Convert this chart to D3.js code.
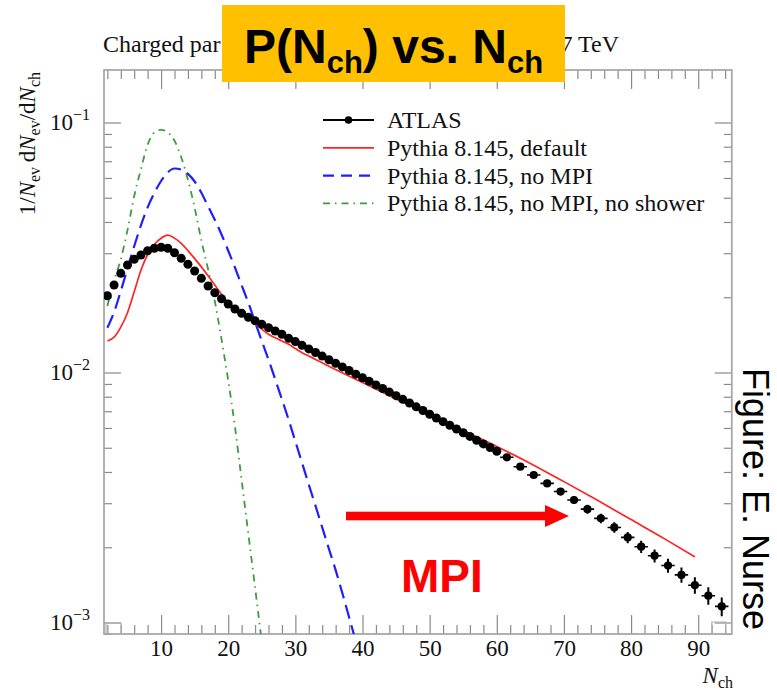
<!DOCTYPE html>
<html><head><meta charset="utf-8">
<script src="https://cdn.jsdelivr.net/npm/d3@7"></script>
<style>body{margin:0;background:#fff} svg{display:block}</style>
</head><body>
<svg id="c" width="777" height="692"></svg>
<script>
// ---------- DATA ----------
const atlasNarrowN = [2,3,4,5,6,7,8,9,10,11,12,13,14,15,16,17,18,19,20,21,22,23,24,25,26,27,28,29,30,31,32,33,34,35,36,37,38,39,40,41,42,43,44,45,46,47,48,49,50,51,52,53,54,55,56,57,58,59,60];
const atlasNarrowVal = [0.02028,0.02239,0.02493,0.02692,0.02837,0.02951,0.03070,0.03139,0.03168,0.03139,0.03014,0.02862,0.02709,0.02547,0.02381,0.02218,0.02085,0.01973,0.01879,0.01795,0.01725,0.01662,0.01611,0.01559,0.01511,0.01466,0.01422,0.01370,0.01329,0.01284,0.01243,0.01202,0.01163,0.01125,0.01088,0.01053,0.01019,0.00985,0.00953,0.00922,0.00892,0.00863,0.00835,0.00808,0.00781,0.00755,0.00729,0.00705,0.00681,0.00658,0.00636,0.00615,0.00594,0.00574,0.00555,0.00536,0.00518,0.00501,0.00484];
const atlasWideN = [61.5,63.5,65.5,67.5,69.5,71.5,73.5,75.5,77.5,79.5,81.5,83.5,85.5,87.5,89.5,91.5,93.5];
const atlasWideVal = [0.00458,0.00420,0.00389,0.00360,0.00334,0.00309,0.00284,0.00261,0.00240,0.00219,0.00201,0.00185,0.00169,0.00155,0.00141,0.00128,0.00116];
const atlasWideErr = [0.00010,0.000105,0.000109,0.000112,0.000114,0.000114,0.000116,0.000115,0.000115,0.000114,0.000113,0.000111,0.00011,0.000109,0.000106,0.000102,0.0001];
const atlasWideHalfWidth = 1;

const redN = [2,3,4,5,6,7,8,9,10,11,12,13,14,15,16,17,18,19,20,21,22,23,24,25,26,27,28,29,30,31,32,33,34,35,40,45,50,55,60,65,70,75,80,85,89.5];
const redVal = [0.01337,0.01384,0.01518,0.01734,0.02104,0.02566,0.02965,0.03251,0.03442,0.03541,0.03448,0.03284,0.03073,0.02855,0.02645,0.02436,0.02237,0.02057,0.01909,0.01803,0.01725,0.01649,0.01572,0.01490,0.01422,0.01377,0.01337,0.01297,0.01247,0.01200,0.01164,0.01128,0.01093,0.01059,0.00912,0.00783,0.00679,0.00586,0.00506,0.00433,0.00366,0.00308,0.00258,0.00216,0.00183];

const blueN = [2,3,4,5,6,7,8,9,10,11,12,13,14,15,16,17,18,19,20,21,22,23,24,25,26,27,28,29,30,31,32,33,34,35,36,37,38,39];
const blueVal = [0.01510,0.01744,0.02116,0.02609,0.03200,0.03880,0.04578,0.05224,0.05834,0.06320,0.06546,0.06480,0.06233,0.05808,0.05234,0.04624,0.04085,0.03565,0.03070,0.02630,0.02233,0.01900,0.01591,0.01337,0.01126,0.00939,0.00781,0.00647,0.00530,0.00435,0.00356,0.00293,0.00240,0.00197,0.00162,0.00131,0.00105,0.000842];

const greenN = [2,3,4,5,6,7,8,9,10,11,12,13,14,15,16,17,18,19,20,21,22,23,24,25];
const greenVal = [0.01845,0.02331,0.02834,0.03712,0.05082,0.06498,0.08157,0.09120,0.09350,0.09129,0.08449,0.07264,0.05905,0.04561,0.03373,0.02589,0.01932,0.01358,0.00929,0.00607,0.00371,0.00226,0.00138,0.000837];

const xMajorTicks = [10,20,30,40,50,60,70,80,90];
const xTickLabels = ["10","20","30","40","50","60","70","80","90"];
const yMajorTicks = [0.1,0.01,0.001];
const yTickExp = ["\u22121","\u22122","\u22123"];
const legendLabels = ["ATLAS","Pythia 8.145, default","Pythia 8.145, no MPI","Pythia 8.145, no MPI, no shower"];

// ---------- CHART ----------
const svg = d3.select("#c");
const L = 104, R = 731.8, T = 70, B = 634;
const x = d3.scaleLinear().domain([1.5, 95]).range([L, R]);
const y = d3.scaleLog().domain([Math.pow(10,-3.046), Math.pow(10,-0.79)]).range([B, T]);
const serif = "'Liberation Serif','Times New Roman',serif";
const sans = "'Liberation Sans',Arial,Helvetica,sans-serif";
const tickCol = "#8a8a8a";

svg.append("defs").append("clipPath").attr("id","plotclip")
  .append("rect").attr("x",L).attr("y",T).attr("width",R-L).attr("height",B-T);

const xMinor = d3.range(2, 95, 2).filter(v => v % 10 !== 0);
function styleAxis(g){ g.select(".domain").remove(); g.selectAll("line").attr("stroke",tickCol).attr("stroke-width",1.2); }

svg.append("g").attr("transform",`translate(0,${B})`)
  .call(d3.axisBottom(x).tickValues(xMajorTicks).tickSizeInner(-19).tickSizeOuter(0).tickPadding(6)
        .tickFormat((d,i)=>xTickLabels[i]))
  .call(styleAxis)
  .call(g=>g.selectAll("text").attr("font-family",serif).attr("font-size",23).attr("fill","#111"));
svg.append("g").attr("transform",`translate(0,${B})`)
  .call(d3.axisBottom(x).tickValues(xMinor).tickSizeInner(-9).tickSizeOuter(0).tickFormat(""))
  .call(styleAxis);
svg.append("g").attr("transform",`translate(0,${T})`)
  .call(d3.axisTop(x).tickValues(xMajorTicks).tickSizeInner(-19).tickSizeOuter(0).tickFormat(""))
  .call(styleAxis);
svg.append("g").attr("transform",`translate(0,${T})`)
  .call(d3.axisTop(x).tickValues(xMinor).tickSizeInner(-9).tickSizeOuter(0).tickFormat(""))
  .call(styleAxis);

const yAll = y.ticks();
const yMinor = yAll.filter(v => !yMajorTicks.some(m => Math.abs(m - v)/m < 1e-6));
svg.append("g").attr("transform",`translate(${L},0)`)
  .call(d3.axisLeft(y).tickValues(yMajorTicks).tickSizeInner(-17).tickSizeOuter(0).tickFormat(""))
  .call(styleAxis);
svg.append("g").attr("transform",`translate(${L},0)`)
  .call(d3.axisLeft(y).tickValues(yMinor).tickSizeInner(-8).tickSizeOuter(0).tickFormat(""))
  .call(styleAxis);
svg.append("g").attr("transform",`translate(${R},0)`)
  .call(d3.axisRight(y).tickValues(yMajorTicks).tickSizeInner(-17).tickSizeOuter(0).tickFormat(""))
  .call(styleAxis);
svg.append("g").attr("transform",`translate(${R},0)`)
  .call(d3.axisRight(y).tickValues(yMinor).tickSizeInner(-8).tickSizeOuter(0).tickFormat(""))
  .call(styleAxis);

yMajorTicks.forEach((v,i)=>{
  const t = svg.append("text").attr("x",90).attr("y",y(v)+7.5).attr("text-anchor","end")
    .attr("font-family",serif).attr("font-size",23).attr("fill","#111");
  t.append("tspan").text("10");
  t.append("tspan").attr("dy",-10).attr("font-size",16).text(yTickExp[i]);
});

svg.append("rect").attr("x",L).attr("y",T).attr("width",R-L).attr("height",B-T)
  .attr("fill","none").attr("stroke","#a8a8a8").attr("stroke-width",1.8);
svg.append("path").attr("d",`M${L+2},${B} V${B-11} H${L+17} V${B}`).attr("fill","none").attr("stroke","#b0b0b0").attr("stroke-width",1.2);
svg.append("path").attr("d",`M${R-20},${B} V${B-12} H${R-6} V${B}`).attr("fill","none").attr("stroke","#b0b0b0").attr("stroke-width",1.2);

// curves
const plot = svg.append("g").attr("clip-path","url(#plotclip)");
const line = d3.line().x(d=>x(d[0])).y(d=>y(d[1])).curve(d3.curveMonotoneX);
plot.append("path").datum(greenN.map((n,i)=>[n,greenVal[i]])).attr("d",line)
  .attr("fill","none").attr("stroke","#3d9c3d").attr("stroke-width",1.8).attr("stroke-dasharray","7,5,1.5,5");
plot.append("path").datum(blueN.map((n,i)=>[n,blueVal[i]])).attr("d",line)
  .attr("fill","none").attr("stroke","#1e1eff").attr("stroke-width",2.2).attr("stroke-dasharray","14,7");
plot.append("path").datum(redN.map((n,i)=>[n,redVal[i]])).attr("d",line)
  .attr("fill","none").attr("stroke","#ff2424").attr("stroke-width",1.7);

// ATLAS data
const gA = plot.append("g");
atlasWideN.forEach((n,i)=>{
  const v = atlasWideVal[i], e = atlasWideErr[i];
  gA.append("line").attr("x1",x(n)).attr("x2",x(n)).attr("y1",y(v-e)).attr("y2",y(v+e))
    .attr("stroke","#000").attr("stroke-width",2);
  gA.append("line").attr("x1",x(n-atlasWideHalfWidth)).attr("x2",x(n+atlasWideHalfWidth)).attr("y1",y(v)).attr("y2",y(v))
    .attr("stroke","#000").attr("stroke-width",1.6);
});
gA.selectAll("circle.n").data(atlasNarrowN.map((n,i)=>[n,atlasNarrowVal[i]])).join("circle")
  .attr("cx",d=>x(d[0])).attr("cy",d=>y(d[1])).attr("r",4.5).attr("fill","#000");
gA.selectAll("circle.w").data(atlasWideN.map((n,i)=>[n,atlasWideVal[i]])).join("circle")
  .attr("cx",d=>x(d[0])).attr("cy",d=>y(d[1])).attr("r",4.1).attr("fill","#000");

// legend
const lgX1 = 323, lgX2 = 374, lgTx = 387, lgY0 = 120, lgDy = 27.8;
const legStyles = [
  {stroke:"#000", w:2, dash:null, dot:true},
  {stroke:"#ff2424", w:1.7, dash:null},
  {stroke:"#1e1eff", w:2.2, dash:"11,7"},
  {stroke:"#3d9c3d", w:1.8, dash:"7,5,1.5,5"}
];
legendLabels.forEach((lab,i)=>{
  const yy = lgY0 + i*lgDy, s = legStyles[i];
  const ln = svg.append("line").attr("x1",lgX1).attr("x2",lgX2).attr("y1",yy).attr("y2",yy)
    .attr("stroke",s.stroke).attr("stroke-width",s.w);
  if (s.dash) ln.attr("stroke-dasharray",s.dash);
  if (s.dot) svg.append("circle").attr("cx",(lgX1+lgX2)/2).attr("cy",yy).attr("r",3.8).attr("fill","#000");
  svg.append("text").attr("x",lgTx).attr("y",yy+8).attr("font-family",serif).attr("font-size",24)
    .attr("fill","#111").text(lab);
});

// axis titles
const xl = svg.append("text").attr("x",733).attr("y",683).attr("text-anchor","end")
  .attr("font-family",serif).attr("font-size",23).attr("fill","#111");
xl.append("tspan").attr("font-style","italic").text("N");
xl.append("tspan").attr("font-size",16).attr("dy",5).text("ch");

const yl = svg.append("text").attr("transform","translate(35,72) rotate(-90)").attr("text-anchor","end")
  .attr("font-family",serif).attr("font-size",23).attr("fill","#111");
yl.append("tspan").text("1/");
yl.append("tspan").attr("font-style","italic").text("N");
yl.append("tspan").attr("font-size",16).attr("dy",5).text("ev");
yl.append("tspan").attr("dy",-5).text("\u2009d");
yl.append("tspan").attr("font-style","italic").text("N");
yl.append("tspan").attr("font-size",16).attr("dy",5).text("ev");
yl.append("tspan").attr("dy",-5).text("/d");
yl.append("tspan").attr("font-style","italic").text("N");
yl.append("tspan").attr("font-size",16).attr("dy",5).text("ch");

// plot title (the visible parts around the yellow box)
svg.append("text").attr("x",103).attr("y",52).attr("font-family",serif).attr("font-size",24).attr("fill","#111")
  .text("Charged par");
svg.append("text").attr("x",619).attr("y",52).attr("text-anchor","end").attr("font-family",serif).attr("font-size",24).attr("fill","#111")
  .text("7 TeV");

// MPI annotation
svg.append("rect").attr("x",346).attr("y",516-4.3).attr("width",545-346).attr("height",8.6).attr("fill","#ff0000");
svg.append("path").attr("d","M545,505 L569,516 L545,527 Z").attr("fill","#ff0000");
svg.append("text").attr("x",401).attr("y",592).attr("font-family",sans).attr("font-weight","bold")
  .attr("font-size",46).attr("fill","#ff0000").text("MPI");

// right credit
svg.append("text").attr("transform","translate(743,368) rotate(90)").attr("font-family",sans)
  .attr("font-size",36).attr("fill","#000").text("Figure: E. Nurse");

// yellow title box
svg.append("rect").attr("x",222).attr("y",5).attr("width",343).attr("height",77).attr("fill","#FFC000");
const tt = svg.append("text").attr("x",244).attr("y",63).attr("font-family",sans).attr("font-weight","bold")
  .attr("font-size",48).attr("fill","#000");
tt.append("tspan").text("P(N");
tt.append("tspan").attr("font-size",31).attr("dy",10).text("ch");
tt.append("tspan").attr("dy",-10).text(") vs. N");
tt.append("tspan").attr("font-size",31).attr("dy",10).text("ch");
</script>
</body></html>
